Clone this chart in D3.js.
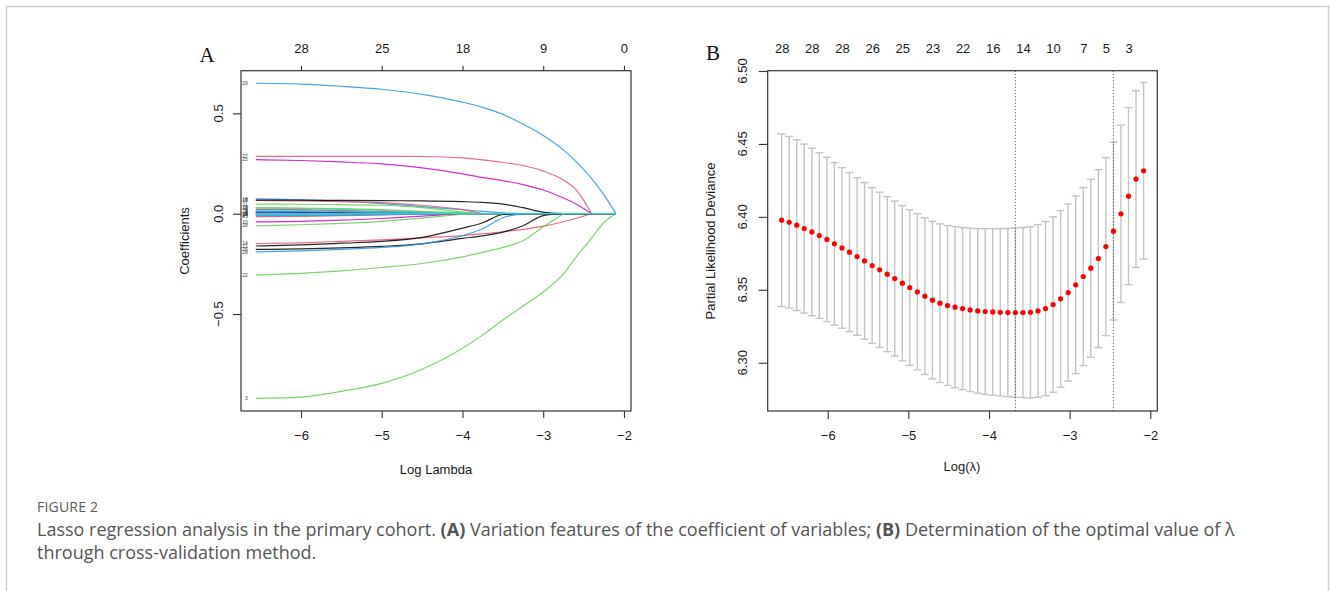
<!DOCTYPE html>
<html>
<head>
<meta charset="utf-8">
<script src="https://cdn.jsdelivr.net/npm/d3@7"></script>
<style>
  html, body { margin: 0; padding: 0; background: #fff; }
  svg { display: block; }
</style>
</head>
<body>
<svg id="chart" width="1330" height="591"></svg>
<script>
// ---------------- Panel A data: coefficient paths ----------------
const lambdaA = [-6.56, -6.0, -5.5, -5.0, -4.5, -4.0, -3.75, -3.5, -3.25, -3.0, -2.75, -2.6, -2.4, -2.25, -2.1];
const coefLabels = ["1","2","5","6","9","12","13","17","19","20","23","24",
                    "16","7","11","15","10","18","14","21","26","28","27","25","29","22","3","8"];
const coefColors = ["#000000","#2297E6","#28E2E5","#CD0BBC","#DF536B","#2297E6","#000000","#28E2E5","#61D04F","#28E2E5","#DF536B","#2297E6",
                    "#2297E6","#DF536B","#61D04F","#000000","#CD0BBC","#61D04F","#DF536B","#000000","#000000","#2297E6","#DF536B","#CD0BBC","#2297E6","#61D04F","#61D04F","#28E2E5"];
const coefValues = [
  [0.008,0.007,0.005,0.003,0.001,0,0,0,0,0,0,0,0,0,0],
  [0.002,0.002,0.001,0.001,0,0,0,0,0,0,0,0,0,0,0],
  [0.018,0.016,0.012,0.008,0.003,0,0,0,0,0,0,0,0,0,0],
  [0.004,0.003,0.002,0.001,0,0,0,0,0,0,0,0,0,0,0],
  [0.022,0.020,0.017,0.012,0.006,0.001,0,0,0,0,0,0,0,0,0],
  [0.012,0.011,0.009,0.006,0.003,0.001,0,0,0,0,0,0,0,0,0],
  [-0.002,-0.002,-0.001,-0.001,0,0,0,0,0,0,0,0,0,0,0],
  [0.028,0.026,0.022,0.016,0.009,0.003,0,0,0,0,0,0,0,0,0],
  [0.030,0.028,0.025,0.020,0.012,0.004,0,0,0,0,0,0,0,0,0],
  [-0.005,-0.004,-0.003,-0.002,-0.001,0,0,0,0,0,0,0,0,0,0],
  [-0.015,-0.013,-0.010,-0.006,-0.002,0,0,0,0,0,0,0,0,0,0],
  [-0.010,-0.009,-0.007,-0.005,-0.002,0,0,0,0,0,0,0,0,0,0],
  [0.074,0.070,0.062,0.050,0.035,0.020,0.012,0.004,0,0,0,0,0,0,0],
  [0.066,0.064,0.060,0.055,0.042,0.020,0,0,0,0,0,0,0,0,0],
  [0.048,0.047,0.045,0.042,0.030,0.008,0,0,0,0,0,0,0,0,0],
  [0.068,0.067,0.066,0.065,0.064,0.060,0.056,0.048,0.030,0.008,0,0,0,0,0],
  [-0.041,-0.038,-0.032,-0.024,-0.012,0,0,0,0,0,0,0,0,0,0],
  [-0.060,-0.055,-0.048,-0.038,-0.022,-0.004,0,0,0,0,0,0,0,0,0],
  [-0.149,-0.145,-0.138,-0.130,-0.120,-0.109,-0.100,-0.090,-0.078,-0.062,-0.040,-0.024,0,0,0],
  [-0.161,-0.155,-0.147,-0.138,-0.118,-0.072,-0.045,-0.004,0,0,0,0,0,0,0],
  [-0.178,-0.175,-0.170,-0.163,-0.150,-0.123,-0.110,-0.092,-0.060,-0.010,0,0,0,0,0],
  [-0.190,-0.185,-0.178,-0.168,-0.150,-0.110,-0.075,-0.020,0,0,0,0,0,0,0],
  [0.286,0.286,0.286,0.286,0.285,0.278,0.268,0.255,0.240,0.212,0.168,0.122,0,0,0],
  [0.269,0.265,0.258,0.248,0.228,0.198,0.180,0.165,0.145,0.118,0.078,0.050,0,0,0],
  [0.650,0.646,0.635,0.620,0.595,0.556,0.530,0.495,0.447,0.390,0.318,0.262,0.175,0.095,0],
  [-0.305,-0.297,-0.285,-0.268,-0.248,-0.215,-0.193,-0.168,-0.135,-0.065,0,0,0,0,0],
  [-0.920,-0.914,-0.885,-0.845,-0.775,-0.670,-0.605,-0.530,-0.460,-0.390,-0.300,-0.220,-0.120,-0.045,0],
  [0.0,0.0,0.0,0.0,0,0,0,0,0,0,0,0,0,0,0]
];
const ticksA = [-6, -5, -4, -3, -2];
const topLabelsA = ["28", "25", "18", "9", "0"];
const yTicksA = [-0.5, 0.0, 0.5];

// ---------------- Panel B data: cross-validation curve ----------------
const logLambdaB = [-6.571,-6.478,-6.384,-6.291,-6.197,-6.104,-6.010,-5.917,-5.823,-5.730,
                    -5.636,-5.543,-5.449,-5.356,-5.262,-5.169,-5.075,-4.982,-4.888,-4.795,
                    -4.701,-4.608,-4.514,-4.421,-4.327,-4.234,-4.140,-4.047,-3.953,-3.860,
                    -3.766,-3.673,-3.579,-3.486,-3.392,-3.299,-3.205,-3.112,-3.018,-2.925,
                    -2.831,-2.738,-2.644,-2.551,-2.457,-2.364,-2.270,-2.177,-2.083];
const cvm = [6.3977,6.3963,6.3943,6.3920,6.3897,6.3872,6.3845,6.3815,6.3787,6.3758,
             6.3728,6.3698,6.3666,6.3637,6.3607,6.3577,6.3545,6.3515,6.3486,6.3456,
             6.3429,6.3408,6.3392,6.3381,6.3371,6.3362,6.3355,6.3351,6.3348,6.3346,
             6.3344,6.3344,6.3344,6.3346,6.3355,6.3371,6.3399,6.3438,6.3481,6.3534,
             6.3591,6.3648,6.3714,6.3796,6.3902,6.4021,6.4142,6.4259,6.4316];
const cvsd = [0.0592,0.0588,0.0585,0.0579,0.0574,0.0568,0.0563,0.0557,0.0550,0.0545,
              0.0540,0.0537,0.0534,0.0532,0.0531,0.0531,0.0532,0.0533,0.0535,0.0537,
              0.0540,0.0544,0.0548,0.0552,0.0556,0.0560,0.0564,0.0568,0.0571,0.0574,
              0.0577,0.0580,0.0583,0.0587,0.0592,0.0597,0.0601,0.0605,0.0607,0.0609,
              0.0610,0.0610,0.0610,0.0610,0.0609,0.0608,0.0607,0.0606,0.0605];
const nzeroTickLambda = [-6.571,-6.197,-5.823,-5.449,-5.075,-4.701,-4.327,-3.953,-3.579,-3.205,-2.831,-2.551,-2.270];
const nzeroTickLabels = ["28","28","28","26","25","23","22","16","14","10","7","5","3"];
const lambdaMin = -3.673;
const lambda1se = -2.457;
const ticksB = [-6, -5, -4, -3, -2];
const yTicksB = [6.30, 6.35, 6.40, 6.45, 6.50];

// ---------------- Drawing ----------------
const svg = d3.select("#chart");
const FONT = "'Liberation Sans', Arial, sans-serif";
const AX = "#333";

// outer frame
svg.append("path").attr("d", "M6.5,591 V6.5 H1328.5 V591")
  .attr("fill", "none").attr("stroke", "#cfcfcf").attr("stroke-width", 1.5);

function styleAxis(g) {
  g.select(".domain").remove();
  g.selectAll("line").attr("stroke", AX).attr("stroke-width", 1.1);
  g.selectAll("text").attr("font-family", FONT).attr("font-size", 13).attr("fill", "#1a1a1a");
}
const intFmt = d3.format("d");

// ===== Panel A =====
const xA = d3.scaleLinear().domain([-6.743, -1.913]).range([241, 631]);
const yA = d3.scaleLinear().domain([-0.983, 0.7125]).range([411, 70.7]);
const gA = svg.append("g");

const curveLine = d3.line().x(d => xA(d[0])).y(d => yA(d[1])).curve(d3.curveMonotoneX);
const flatLine = d3.line().x(d => xA(d[0])).y(d => yA(d[1]));
coefValues.forEach((vals, k) => {
  const pts = vals.map((v, i) => [lambdaA[i], v]);
  // index where the path reaches zero for good
  let z = pts.length - 1;
  while (z > 0 && vals[z - 1] === 0) z--;
  const g = gA.append("g").attr("fill", "none").attr("stroke", coefColors[k])
    .attr("stroke-width", 1.2).attr("stroke-opacity", 0.85);
  if (z > 0) g.append("path").attr("d", curveLine(pts.slice(0, z + 1)));
  g.append("path").attr("d", flatLine(pts.slice(z)));
});
coefValues.forEach((vals, k) => {
  gA.append("text").attr("x", xA(lambdaA[0]) - 8).attr("y", yA(vals[0]))
    .attr("dy", "0.35em").attr("text-anchor", "end")
    .attr("font-family", FONT).attr("font-size", 5).attr("fill", "#444")
    .text(coefLabels[k]);
});

gA.append("g").attr("transform", "translate(0,411)")
  .call(d3.axisBottom(xA).tickValues(ticksA).tickSize(7).tickPadding(13).tickFormat(intFmt)).call(styleAxis);
gA.append("g").attr("transform", "translate(0,70.7)")
  .call(d3.axisTop(xA).tickValues(ticksA).tickSize(5).tickPadding(13)
    .tickFormat((d, i) => topLabelsA[i])).call(styleAxis);
gA.append("g").attr("transform", "translate(241,0)")
  .call(d3.axisLeft(yA).tickValues(yTicksA).tickSize(8).tickFormat("")).call(styleAxis);
gA.selectAll(".ylabA").data(yTicksA).join("text")
  .attr("transform", d => `translate(218,${yA(d)}) rotate(-90)`)
  .attr("text-anchor", "middle").attr("dy", "0.35em")
  .attr("font-family", FONT).attr("font-size", 13).attr("fill", "#1a1a1a")
  .text(d => d3.format(".1f")(d));
gA.append("rect").attr("x", 241).attr("y", 70.7).attr("width", 390).attr("height", 340.3)
  .attr("fill", "none").attr("stroke", AX).attr("stroke-width", 1.2);
gA.append("text").attr("x", 436).attr("y", 469).attr("dy", "0.35em").attr("text-anchor", "middle")
  .attr("font-family", FONT).attr("font-size", 13).attr("fill", "#1a1a1a").text("Log Lambda");
gA.append("text").attr("transform", "translate(184,241) rotate(-90)").attr("dy", "0.35em")
  .attr("text-anchor", "middle").attr("font-family", FONT).attr("font-size", 13).attr("fill", "#1a1a1a")
  .text("Coefficients");
gA.append("text").attr("x", 207).attr("y", 62).attr("text-anchor", "middle")
  .attr("font-family", "'Liberation Serif', 'Times New Roman', serif").attr("font-size", 21)
  .attr("fill", "#111").text("A");

// ===== Panel B =====
const xB = d3.scaleLinear().domain([-6.744, -1.913]).range([767.7, 1157.3]);
const yB = d3.scaleLinear().domain([6.2669, 6.5002]).range([411, 70.7]);
const gB = svg.append("g");

const bars = gB.append("g").attr("stroke", "#c4c4c4").attr("stroke-width", 1.4);
logLambdaB.forEach((l, i) => {
  const x = xB(l), up = yB(cvm[i] + cvsd[i]), lo = yB(cvm[i] - cvsd[i]);
  bars.append("line").attr("x1", x).attr("x2", x).attr("y1", up).attr("y2", lo);
  bars.append("line").attr("x1", x - 4).attr("x2", x + 4).attr("y1", up).attr("y2", up);
  bars.append("line").attr("x1", x - 4).attr("x2", x + 4).attr("y1", lo).attr("y2", lo);
});
[lambdaMin, lambda1se].forEach(l => {
  gB.append("line").attr("x1", xB(l)).attr("x2", xB(l)).attr("y1", 70.7).attr("y2", 411)
    .attr("stroke", "#555").attr("stroke-width", 1).attr("stroke-dasharray", "1.2,2");
});
gB.selectAll(".pt").data(cvm).join("circle")
  .attr("cx", (d, i) => xB(logLambdaB[i])).attr("cy", d => yB(d)).attr("r", 2.6).attr("fill", "#ff0000");

gB.append("g").attr("transform", "translate(0,411)")
  .call(d3.axisBottom(xB).tickValues(ticksB).tickSize(8).tickPadding(12).tickFormat(intFmt)).call(styleAxis);
gB.append("g").attr("transform", "translate(0,70.7)")
  .call(d3.axisTop(xB).tickValues(nzeroTickLambda).tickSize(0).tickPadding(18)
    .tickFormat((d, i) => nzeroTickLabels[i])).call(styleAxis);
gB.append("g").attr("transform", "translate(767.7,0)")
  .call(d3.axisLeft(yB).tickValues(yTicksB).tickSize(9).tickFormat("")).call(styleAxis);
gB.selectAll(".ylabB").data(yTicksB).join("text")
  .attr("transform", d => `translate(742.5,${yB(d)}) rotate(-90)`)
  .attr("text-anchor", "middle").attr("dy", "0.35em")
  .attr("font-family", FONT).attr("font-size", 13).attr("fill", "#1a1a1a")
  .text(d => d3.format(".2f")(d));
gB.append("rect").attr("x", 767.7).attr("y", 70.7).attr("width", 389.6).attr("height", 340.3)
  .attr("fill", "none").attr("stroke", AX).attr("stroke-width", 1.2);
gB.append("text").attr("x", 962).attr("y", 466).attr("dy", "0.35em").attr("text-anchor", "middle")
  .attr("font-family", FONT).attr("font-size", 13).attr("fill", "#1a1a1a").text("Log(λ)");
gB.append("text").attr("transform", "translate(710,241) rotate(-90)").attr("dy", "0.35em")
  .attr("text-anchor", "middle").attr("font-family", FONT).attr("font-size", 13).attr("fill", "#1a1a1a")
  .text("Partial Likelihood Deviance");
gB.append("text").attr("x", 713).attr("y", 60).attr("text-anchor", "middle")
  .attr("font-family", "'Liberation Serif', 'Times New Roman', serif").attr("font-size", 21)
  .attr("fill", "#111").text("B");

// ===== Caption =====
const CAP = "'Open Sans', 'Noto Sans', sans-serif";
svg.append("text").attr("x", 37).attr("y", 512).attr("font-family", CAP).attr("font-size", 14)
  .attr("fill", "#5a5a5a").attr("letter-spacing", 0.2).text("FIGURE 2");
const cap1 = svg.append("text").attr("x", 37).attr("y", 536).attr("font-family", CAP)
  .attr("font-size", 18).attr("fill", "#555");
cap1.append("tspan").text("Lasso regression analysis in the primary cohort. ");
cap1.append("tspan").attr("font-weight", "bold").text("(A)");
cap1.append("tspan").text(" Variation features of the coefficient of variables; ");
cap1.append("tspan").attr("font-weight", "bold").text("(B)");
cap1.append("tspan").text(" Determination of the optimal value of λ");
svg.append("text").attr("x", 37).attr("y", 559).attr("font-family", CAP)
  .attr("font-size", 18).attr("fill", "#555").text("through cross-validation method.");
</script>
</body>
</html>
